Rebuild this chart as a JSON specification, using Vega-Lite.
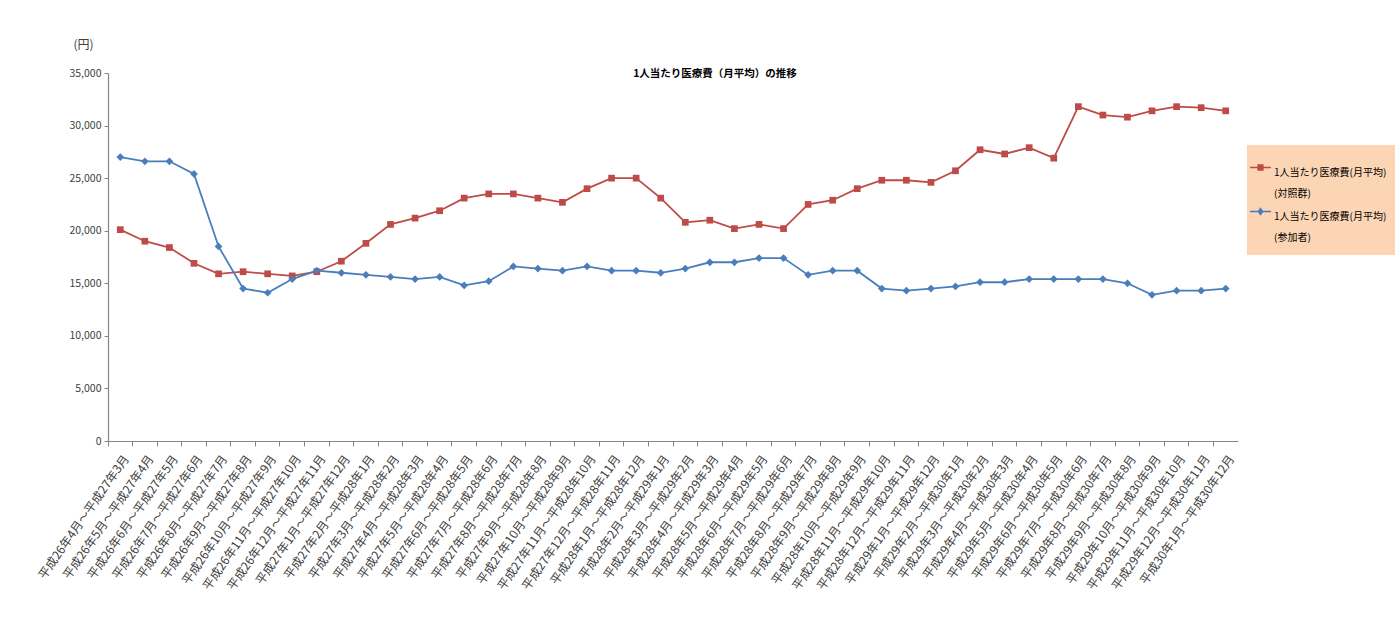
{
  "$schema": "https://vega.github.io/schema/vega-lite/v6.json",
  "width": 1130,
  "height": 368,
  "autosize": {"type": "none"},
  "padding": {"left": 108, "top": 73, "right": 157, "bottom": 184},
  "background": "white",
  "config": {
    "font": "Noto Sans CJK JP",
    "view": {"stroke": null},
    "axis": {"grid": false, "domainColor": "#868686", "tickColor": "#868686", "labelColor": "#404040", "labelFont": "Noto Sans CJK JP"}
  },
  "title": {
    "text": "1人当たり医療費（月平均）の推移",
    "anchor": "middle",
    "frame": "group",
    "dx": 42,
    "offset": -46,
    "baseline": "middle",
    "fontSize": 10.5,
    "fontWeight": "bold",
    "color": "#000000"
  },
  "datasets": {
    "cost": [
      {"period": "平成26年4月～平成27年3月", "group": "対照群", "value": 20100},
      {"period": "平成26年5月～平成27年4月", "group": "対照群", "value": 19000},
      {"period": "平成26年6月～平成27年5月", "group": "対照群", "value": 18400},
      {"period": "平成26年7月～平成27年6月", "group": "対照群", "value": 16900},
      {"period": "平成26年8月～平成27年7月", "group": "対照群", "value": 15900},
      {"period": "平成26年9月～平成27年8月", "group": "対照群", "value": 16100},
      {"period": "平成26年10月～平成27年9月", "group": "対照群", "value": 15900},
      {"period": "平成26年11月～平成27年10月", "group": "対照群", "value": 15700},
      {"period": "平成26年12月～平成27年11月", "group": "対照群", "value": 16100},
      {"period": "平成27年1月～平成27年12月", "group": "対照群", "value": 17100},
      {"period": "平成27年2月～平成28年1月", "group": "対照群", "value": 18800},
      {"period": "平成27年3月～平成28年2月", "group": "対照群", "value": 20600},
      {"period": "平成27年4月～平成28年3月", "group": "対照群", "value": 21200},
      {"period": "平成27年5月～平成28年4月", "group": "対照群", "value": 21900},
      {"period": "平成27年6月～平成28年5月", "group": "対照群", "value": 23100},
      {"period": "平成27年7月～平成28年6月", "group": "対照群", "value": 23500},
      {"period": "平成27年8月～平成28年7月", "group": "対照群", "value": 23500},
      {"period": "平成27年9月～平成28年8月", "group": "対照群", "value": 23100},
      {"period": "平成27年10月～平成28年9月", "group": "対照群", "value": 22700},
      {"period": "平成27年11月～平成28年10月", "group": "対照群", "value": 24000},
      {"period": "平成27年12月～平成28年11月", "group": "対照群", "value": 25000},
      {"period": "平成28年1月～平成28年12月", "group": "対照群", "value": 25000},
      {"period": "平成28年2月～平成29年1月", "group": "対照群", "value": 23100},
      {"period": "平成28年3月～平成29年2月", "group": "対照群", "value": 20800},
      {"period": "平成28年4月～平成29年3月", "group": "対照群", "value": 21000},
      {"period": "平成28年5月～平成29年4月", "group": "対照群", "value": 20200},
      {"period": "平成28年6月～平成29年5月", "group": "対照群", "value": 20600},
      {"period": "平成28年7月～平成29年6月", "group": "対照群", "value": 20200},
      {"period": "平成28年8月～平成29年7月", "group": "対照群", "value": 22500},
      {"period": "平成28年9月～平成29年8月", "group": "対照群", "value": 22900},
      {"period": "平成28年10月～平成29年9月", "group": "対照群", "value": 24000},
      {"period": "平成28年11月～平成29年10月", "group": "対照群", "value": 24800},
      {"period": "平成28年12月～平成29年11月", "group": "対照群", "value": 24800},
      {"period": "平成29年1月～平成29年12月", "group": "対照群", "value": 24600},
      {"period": "平成29年2月～平成30年1月", "group": "対照群", "value": 25700},
      {"period": "平成29年3月～平成30年2月", "group": "対照群", "value": 27700},
      {"period": "平成29年4月～平成30年3月", "group": "対照群", "value": 27300},
      {"period": "平成29年5月～平成30年4月", "group": "対照群", "value": 27900},
      {"period": "平成29年6月～平成30年5月", "group": "対照群", "value": 26900},
      {"period": "平成29年7月～平成30年6月", "group": "対照群", "value": 31800},
      {"period": "平成29年8月～平成30年7月", "group": "対照群", "value": 31000},
      {"period": "平成29年9月～平成30年8月", "group": "対照群", "value": 30800},
      {"period": "平成29年10月～平成30年9月", "group": "対照群", "value": 31400},
      {"period": "平成29年11月～平成30年10月", "group": "対照群", "value": 31800},
      {"period": "平成29年12月～平成30年11月", "group": "対照群", "value": 31700},
      {"period": "平成30年1月～平成30年12月", "group": "対照群", "value": 31400},
      {"period": "平成26年4月～平成27年3月", "group": "参加者", "value": 27000},
      {"period": "平成26年5月～平成27年4月", "group": "参加者", "value": 26600},
      {"period": "平成26年6月～平成27年5月", "group": "参加者", "value": 26600},
      {"period": "平成26年7月～平成27年6月", "group": "参加者", "value": 25400},
      {"period": "平成26年8月～平成27年7月", "group": "参加者", "value": 18500},
      {"period": "平成26年9月～平成27年8月", "group": "参加者", "value": 14500},
      {"period": "平成26年10月～平成27年9月", "group": "参加者", "value": 14100},
      {"period": "平成26年11月～平成27年10月", "group": "参加者", "value": 15400},
      {"period": "平成26年12月～平成27年11月", "group": "参加者", "value": 16200},
      {"period": "平成27年1月～平成27年12月", "group": "参加者", "value": 16000},
      {"period": "平成27年2月～平成28年1月", "group": "参加者", "value": 15800},
      {"period": "平成27年3月～平成28年2月", "group": "参加者", "value": 15600},
      {"period": "平成27年4月～平成28年3月", "group": "参加者", "value": 15400},
      {"period": "平成27年5月～平成28年4月", "group": "参加者", "value": 15600},
      {"period": "平成27年6月～平成28年5月", "group": "参加者", "value": 14800},
      {"period": "平成27年7月～平成28年6月", "group": "参加者", "value": 15200},
      {"period": "平成27年8月～平成28年7月", "group": "参加者", "value": 16600},
      {"period": "平成27年9月～平成28年8月", "group": "参加者", "value": 16400},
      {"period": "平成27年10月～平成28年9月", "group": "参加者", "value": 16200},
      {"period": "平成27年11月～平成28年10月", "group": "参加者", "value": 16600},
      {"period": "平成27年12月～平成28年11月", "group": "参加者", "value": 16200},
      {"period": "平成28年1月～平成28年12月", "group": "参加者", "value": 16200},
      {"period": "平成28年2月～平成29年1月", "group": "参加者", "value": 16000},
      {"period": "平成28年3月～平成29年2月", "group": "参加者", "value": 16400},
      {"period": "平成28年4月～平成29年3月", "group": "参加者", "value": 17000},
      {"period": "平成28年5月～平成29年4月", "group": "参加者", "value": 17000},
      {"period": "平成28年6月～平成29年5月", "group": "参加者", "value": 17400},
      {"period": "平成28年7月～平成29年6月", "group": "参加者", "value": 17400},
      {"period": "平成28年8月～平成29年7月", "group": "参加者", "value": 15800},
      {"period": "平成28年9月～平成29年8月", "group": "参加者", "value": 16200},
      {"period": "平成28年10月～平成29年9月", "group": "参加者", "value": 16200},
      {"period": "平成28年11月～平成29年10月", "group": "参加者", "value": 14500},
      {"period": "平成28年12月～平成29年11月", "group": "参加者", "value": 14300},
      {"period": "平成29年1月～平成29年12月", "group": "参加者", "value": 14500},
      {"period": "平成29年2月～平成30年1月", "group": "参加者", "value": 14700},
      {"period": "平成29年3月～平成30年2月", "group": "参加者", "value": 15100},
      {"period": "平成29年4月～平成30年3月", "group": "参加者", "value": 15100},
      {"period": "平成29年5月～平成30年4月", "group": "参加者", "value": 15400},
      {"period": "平成29年6月～平成30年5月", "group": "参加者", "value": 15400},
      {"period": "平成29年7月～平成30年6月", "group": "参加者", "value": 15400},
      {"period": "平成29年8月～平成30年7月", "group": "参加者", "value": 15400},
      {"period": "平成29年9月～平成30年8月", "group": "参加者", "value": 15000},
      {"period": "平成29年10月～平成30年9月", "group": "参加者", "value": 13900},
      {"period": "平成29年11月～平成30年10月", "group": "参加者", "value": 14300},
      {"period": "平成29年12月～平成30年11月", "group": "参加者", "value": 14300},
      {"period": "平成30年1月～平成30年12月", "group": "参加者", "value": 14500}
    ]
  },
  "data": {"name": "cost"},
  "encoding": {
    "x": {
      "field": "period",
      "type": "ordinal",
      "sort": null,
      "bandPosition": 0.5,
      "scale": {"type": "band", "paddingInner": 0, "paddingOuter": 0},
      "axis": {
        "title": null,
        "bandPosition": 0,
        "labelOffset": 6,
        "labelAngle": -55,
        "labelFontSize": 12,
        "labelPadding": 10,
        "labelLimit": 300,
        "labelOverlap": false,
        "tickSize": 5,
        "domainWidth": 1.2
      }
    },
    "y": {
      "field": "value",
      "type": "quantitative",
      "scale": {"domain": [0, 35000], "nice": false},
      "axis": {
        "values": [0, 5000, 10000, 15000, 20000, 25000, 30000, 35000],
        "format": ",d",
        "title": "(円)",
        "titleAngle": 0,
        "titleX": -25,
        "titleY": -29,
        "titleAlign": "center",
        "titleBaseline": "middle",
        "titleFontSize": 12,
        "titleFontWeight": "normal",
        "titleColor": "#404040",
        "labelFontSize": 10.5,
        "labelPadding": 3,
        "tickSize": 4,
        "domainWidth": 1.2
      }
    },
    "color": {
      "field": "group",
      "type": "nominal",
      "scale": {"domain": ["対照群", "参加者"], "range": ["#BE4B48", "#4A7EBB"]}
    }
  },
  "layer": [
    {
      "mark": {"type": "line", "strokeWidth": 1.8}
    },
    {
      "transform": [{"filter": "datum.group === '対照群'"}],
      "mark": {"type": "point", "filled": true, "opacity": 1, "shape": "square", "size": 45}
    },
    {
      "transform": [{"filter": "datum.group === '参加者'"}],
      "mark": {"type": "point", "filled": true, "opacity": 1, "shape": "diamond", "size": 60}
    },
    {
      "mark": {"type": "point", "filled": true, "opacity": 0},
      "encoding": {
        "shape": {
          "field": "group",
          "type": "nominal",
          "scale": {
            "domain": ["対照群", "参加者"],
            "range": [
              "M-1,-0.08H1V0.08H-1Z M-0.3,-0.3H0.3V0.3H-0.3Z",
              "M-1,-0.08H1V0.08H-1Z M0,-0.4L0.3,0L0,0.4L-0.3,0Z"
            ]
          },
          "legend": {
            "title": null,
            "orient": "none",
            "legendX": 1139,
            "legendY": 72,
            "fillColor": "#FCD5B5",
            "padding": 12,
            "symbolOffset": -9,
            "symbolSize": 440,
            "symbolOpacity": 1,
            "symbolStrokeWidth": 0,
            "labelFontSize": 10,
            "labelColor": "#000000",
            "labelLimit": 200,
            "labelOffset": 3,
            "rowPadding": 2,
            "labelBaseline": "top",
            "labelExpr": "['1人当たり医療費(月平均)', '(' + datum.label + ')']",
            "encoding": {"labels": {"lineHeight": {"value": 21}}}
          }
        },
        "color": {
          "field": "group",
          "type": "nominal",
          "legend": {
            "title": null,
            "orient": "none",
            "legendX": 1139,
            "legendY": 72,
            "fillColor": "#FCD5B5",
            "padding": 12,
            "symbolOffset": -9,
            "symbolSize": 440,
            "symbolOpacity": 1,
            "symbolStrokeWidth": 0,
            "labelFontSize": 10,
            "labelColor": "#000000",
            "labelLimit": 200,
            "labelOffset": 3,
            "rowPadding": 2,
            "labelBaseline": "top",
            "labelExpr": "['1人当たり医療費(月平均)', '(' + datum.label + ')']",
            "encoding": {"labels": {"lineHeight": {"value": 21}}}
          }
        }
      }
    }
  ]
}
